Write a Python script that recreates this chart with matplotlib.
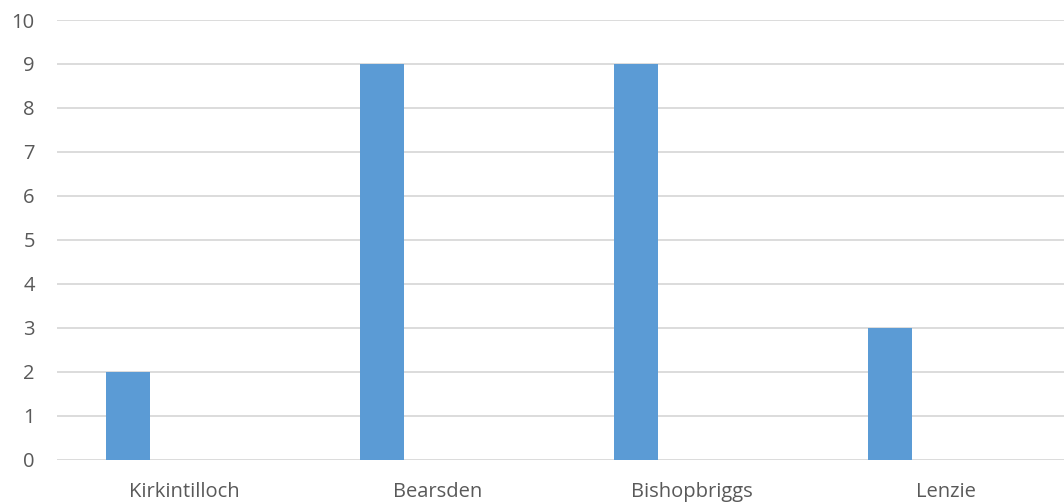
import numpy as np
import matplotlib.pyplot as plt

towns = ["Kirkintilloch", "Bearsden", "Bishopbriggs", "Lenzie"]
counts = [2, 9, 9, 3]
y_ticks = list(range(0, 11))

BAR = "#5B9BD5"
GRID = "#D9D9D9"
TEXT = "#595959"

plt.rcParams["font.family"] = ["Open Sans", "DejaVu Sans"]

fig = plt.figure(figsize=(10.64, 5.04), dpi=100)
ax = fig.add_axes([57 / 1064, 44.5 / 504, (1064 - 57) / 1064, 439.5 / 504])

x = np.arange(len(towns))
# first series of a clustered group, so bars sit left of the category centre
ax.bar(x - 0.22, counts, width=0.173, color=BAR, zorder=2)

ax.set_xlim(-0.5, 3.5 - 9 / 254)
ax.set_ylim(0, 10)
ax.set_yticks(y_ticks)
ax.set_xticks(x)
ax.set_xticklabels(towns)
ax.yaxis.grid(True, color=GRID, linewidth=1.3, zorder=0)
ax.set_axisbelow(True)
for s in ax.spines.values():
    s.set_visible(False)
ax.tick_params(axis="both", length=0, colors=TEXT, labelsize=14.5)
ax.tick_params(axis="y", pad=16)
ax.tick_params(axis="x", pad=16)

fig.savefig("out.png", dpi=100, facecolor="white")
